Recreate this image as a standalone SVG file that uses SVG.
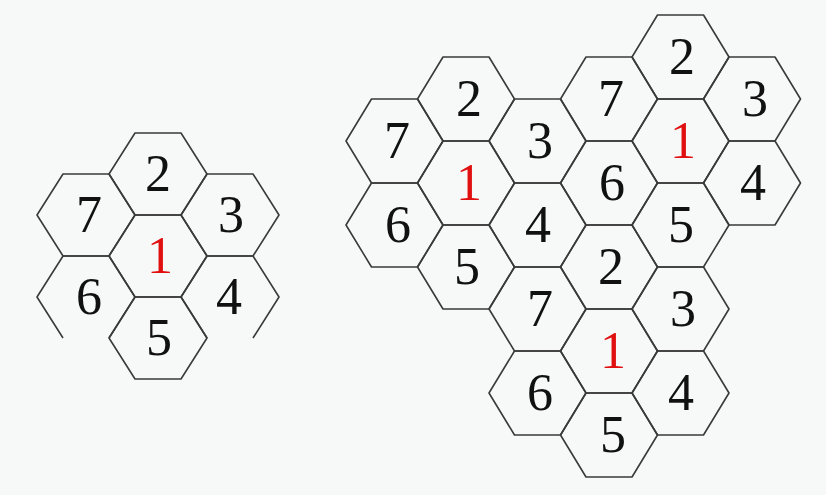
<svg xmlns="http://www.w3.org/2000/svg" width="826" height="495" viewBox="0 0 826 495">
<style>
.h{fill:none;stroke:#3a3a3a;stroke-width:1.6;stroke-linejoin:round}
.r{fill:#e01010}
</style>
<defs>
<polygon id="hx" points="-48.5,0 -23,-42 23,-42 48.5,0 23,42 -23,42"/>
<polygon id="hl" points="-49,0 -23,-41 23,-41 49,0 23,41 -23,41"/>
<path id="hlo" d="M23,41 L49,0 L23,-41 L-23,-41 L-49,0 L-23,41"/>
</defs>
<rect width="826" height="495" fill="#f7f9f8"/>
<g font-family="Liberation Serif, serif" font-size="52" fill="#111" text-anchor="middle">
<g id="left-cluster">
<g id="L2"><use href="#hl" class="h" x="158" y="174"/><text x="158" y="191">2</text></g>
<g id="L7"><use href="#hl" class="h" x="86" y="215"/><text x="89" y="232">7</text></g>
<g id="L3"><use href="#hl" class="h" x="230" y="215"/><text x="231" y="232">3</text></g>
<g id="L1"><use href="#hl" class="h" x="158" y="256"/><text class="r" x="160" y="273">1</text></g>
<g id="L6"><use href="#hlo" class="h" x="86" y="297"/><text x="89" y="314">6</text></g>
<g id="L4"><use href="#hlo" class="h" x="230" y="297"/><text x="229" y="314">4</text></g>
<g id="L5"><use href="#hl" class="h" x="158" y="338"/><text x="159" y="355">5</text></g>
</g>
<g id="cluster-A">
<g id="A2"><use href="#hx" class="h" x="466" y="99"/><text x="469" y="116">2</text></g>
<g id="A7"><use href="#hx" class="h" x="394.5" y="141"/><text x="397" y="158">7</text></g>
<g id="A3"><use href="#hx" class="h" x="537.5" y="141"/><text x="540" y="158">3</text></g>
<g id="A1"><use href="#hx" class="h" x="466" y="183"/><text class="r" x="469" y="200">1</text></g>
<g id="A6"><use href="#hx" class="h" x="394.5" y="225"/><text x="398" y="242">6</text></g>
<g id="A4"><use href="#hx" class="h" x="537.5" y="225"/><text x="538" y="242">4</text></g>
<g id="A5"><use href="#hx" class="h" x="466" y="267"/><text x="467" y="284">5</text></g>
</g>
<g id="cluster-B">
<g id="B2"><use href="#hx" class="h" x="680.5" y="57"/><text x="682" y="74">2</text></g>
<g id="B7"><use href="#hx" class="h" x="609" y="99"/><text x="611" y="116">7</text></g>
<g id="B3"><use href="#hx" class="h" x="752" y="99"/><text x="755" y="116">3</text></g>
<g id="B1"><use href="#hx" class="h" x="680.5" y="141"/><text class="r" x="683" y="158">1</text></g>
<g id="B6"><use href="#hx" class="h" x="609" y="183"/><text x="612" y="200">6</text></g>
<g id="B4"><use href="#hx" class="h" x="752" y="183"/><text x="753" y="200">4</text></g>
<g id="B5"><use href="#hx" class="h" x="680.5" y="225"/><text x="681" y="242">5</text></g>
</g>
<g id="cluster-C">
<g id="C2"><use href="#hx" class="h" x="609" y="267"/><text x="611" y="284">2</text></g>
<g id="C7"><use href="#hx" class="h" x="537.5" y="309"/><text x="540" y="326">7</text></g>
<g id="C3"><use href="#hx" class="h" x="680.5" y="309"/><text x="683" y="326">3</text></g>
<g id="C1"><use href="#hx" class="h" x="609" y="351"/><text class="r" x="613" y="368">1</text></g>
<g id="C6"><use href="#hx" class="h" x="537.5" y="393"/><text x="540" y="410">6</text></g>
<g id="C4"><use href="#hx" class="h" x="680.5" y="393"/><text x="681" y="410">4</text></g>
<g id="C5"><use href="#hx" class="h" x="609" y="435"/><text x="613" y="452">5</text></g>
</g>
</g>
</svg>
